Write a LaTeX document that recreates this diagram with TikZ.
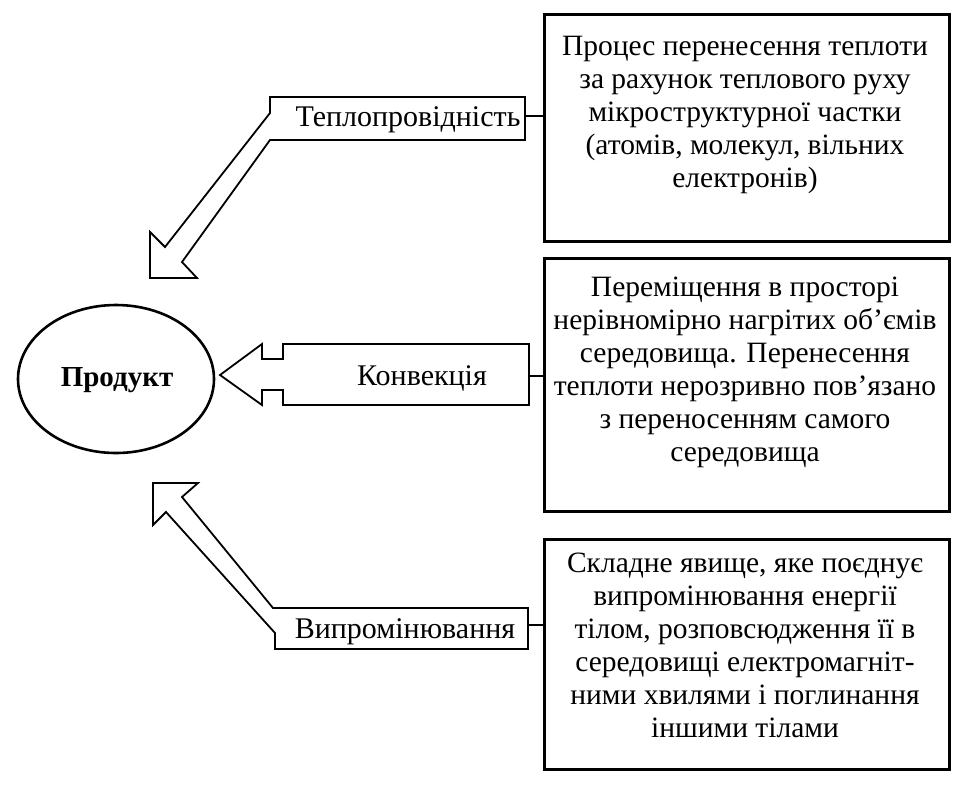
\documentclass[tikz,border=0pt]{standalone}
\usepackage{fontspec}
\setmainfont{Liberation Serif}
\usetikzlibrary{shapes.geometric}
\begin{document}
\begin{tikzpicture}[x=1pt,y=-1pt,
  descbox/.style={draw,line width=2.6pt,minimum width=405pt,anchor=north west,inner sep=0pt},
  desctext/.style={align=center,font=\fontsize{29.5}{33}\selectfont,inner sep=0pt},
  lbl/.style={font=\fontsize{30}{34}\selectfont,inner sep=0pt},
  bigarrow/.style={draw,line width=1.8pt,line join=miter},
  conn/.style={draw,line width=1.6pt}]
\useasboundingbox (0,0) rectangle (963,788);
% product
\node[ellipse,draw,line width=2.6pt,minimum width=196pt,minimum height=148pt,inner sep=0pt] (prod) at (116,379) {};
\node[font=\bfseries\fontsize{29}{34}\selectfont,inner sep=0pt] (prodt) at (117,380) {Продукт};
% description boxes
\node[descbox,minimum height=227pt] (b1) at (543,13) {};
\node[desctext] (t1) at (745,115) {Процес перенесення теплоти\\за рахунок теплового руху\\мікроструктурної частки\\(атомів, молекул, вільних\\електронів)};
\node[descbox,minimum height=253pt] (b2) at (543,257) {};
\node[desctext] (t2) at (745,372) {Переміщення в просторі\\нерівномірно нагрітих об’ємів\\середовища. Перенесення\\теплоти нерозривно пов’язано\\з переносенням самого\\середовища};
\node[descbox,minimum height=230pt] (b3) at (543,538) {};
\node[desctext] (t3) at (745,645) {Складне явище, яке поєднує\\випромінювання енергії\\тілом, розповсюдження її в\\середовищі електромагніт-\\ними хвилями і поглинання\\іншими тілами};
% arrows
\draw[bigarrow] (525,97) -- (270,97) -- (270,113) -- (165,247) -- (150,232) -- (150,278) -- (197,278) -- (182,262) -- (270,140) -- (525,140) -- cycle;
\node[lbl] (l1) at (408,120) {Теплопровідність};
\draw[bigarrow] (529,344) -- (283,344) -- (283,359) -- (262,359) -- (262,344) -- (220,375) -- (262,405) -- (262,390) -- (283,390) -- (283,405) -- (529,405) -- cycle;
\node[lbl] (l2) at (422,378) {Конвекція};
\draw[bigarrow] (528,608) -- (273,608) -- (182,497) -- (198,483) -- (153,483) -- (153,525) -- (166,512) -- (275,633) -- (275,649) -- (528,649) -- cycle;
\node[lbl] (l3) at (405,632) {Випромінювання};
% connectors
\coordinate (c1) at (525,116);
\coordinate (c2) at (529,376);
\coordinate (c3) at (528,625);
\draw[conn] (c1) -- (b1.west |- c1);
\draw[conn] (c2) -- (b2.west |- c2);
\draw[conn] (c3) -- (b3.west |- c3);
\end{tikzpicture}
\end{document}
